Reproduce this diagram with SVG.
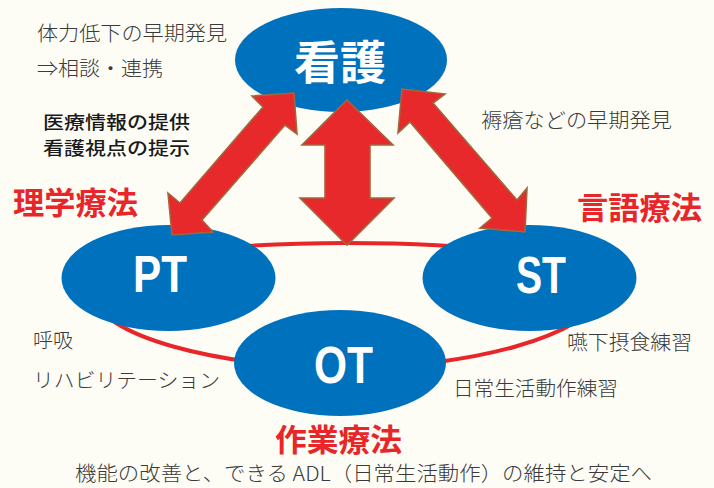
<svg xmlns="http://www.w3.org/2000/svg" width="714" height="488" viewBox="0 0 714 488">
<style>
.bg{fill:#fdfdf6}
.node{fill:#0071bc}
.ring{fill:none;stroke:#e8262a;stroke-width:4}
.arrow{fill:#e8292b;stroke:#a2663c;stroke-width:1.6;stroke-linejoin:miter}
.nl{font-family:"Liberation Sans","Noto Sans CJK JP",sans-serif;font-weight:bold;fill:#ffffff;text-anchor:middle}
.jp{font-family:"Noto Sans CJK JP","Noto Sans",sans-serif;font-size:20px}
.thin{fill:#3a3a3a;font-weight:300}
.dark{fill:#1a1a1a;font-weight:500;font-size:17.8px}
.red{font-family:"Noto Sans CJK JP",sans-serif;font-weight:bold;font-size:31px;fill:#e8262a}
</style>
<rect class="bg" x="0" y="0" width="714" height="488"/>
<g id="connectors">
<path class="ring" d="M347 243 C470 243 610 255 600 295 C590 335 470 368 345 368 C220 368 95 335 95 295 C95 255 225 243 347 243 Z"/>
</g>
<g id="node-kango">
<ellipse class="node" cx="341" cy="60" rx="106" ry="52"/>
<text class="nl" x="340" y="79" font-size="46" font-family="Noto Sans CJK JP,sans-serif">看護</text>
</g>
<g id="node-pt">
<ellipse class="node" cx="168.5" cy="278" rx="107" ry="53"/>
<text class="nl" x="160" y="292" font-size="51" textLength="54" lengthAdjust="spacingAndGlyphs">PT</text>
</g>
<g id="node-st">
<ellipse class="node" cx="529.5" cy="278" rx="107" ry="53"/>
<text class="nl" x="541" y="293" font-size="51" textLength="50" lengthAdjust="spacingAndGlyphs">ST</text>
</g>
<g id="node-ot">
<ellipse class="node" cx="340" cy="363" rx="106" ry="53"/>
<text class="nl" x="343.5" y="383" font-size="51" textLength="59" lengthAdjust="spacingAndGlyphs">OT</text>
</g>
<g id="arrows">
<polygon class="arrow" points="294,93 297,134 285,125 202,220 213,232 172,235 168,193 180,203 263,107 252,96"/>
<polygon class="arrow" points="347,100 393,145 370,145 370,198 394,198 347,245 300,198 325,198 325,145 302,145"/>
<polygon class="arrow" points="402,89 445,94 433,103 517,200 527,188 525,232 480,228 492,218 410,122 398,133"/>
</g>
<g id="labels">
<text class="jp thin" x="37" y="41" textLength="190" lengthAdjust="spacingAndGlyphs">体力低下の早期発見</text>
<text class="jp thin" x="37" y="76" textLength="126" lengthAdjust="spacingAndGlyphs">⇒相談・連携</text>
<text class="jp dark" x="43" y="129" textLength="147" lengthAdjust="spacingAndGlyphs">医療情報の提供</text>
<text class="jp dark" x="43" y="155" textLength="147" lengthAdjust="spacingAndGlyphs">看護視点の提示</text>
<text class="red" x="13" y="214" textLength="125" lengthAdjust="spacingAndGlyphs">理学療法</text>
<text class="jp thin" x="481" y="128" textLength="191" lengthAdjust="spacingAndGlyphs">褥瘡などの早期発見</text>
<text class="red" x="577" y="219" textLength="125" lengthAdjust="spacingAndGlyphs">言語療法</text>
<text class="jp thin" x="33" y="348" textLength="40" lengthAdjust="spacingAndGlyphs">呼吸</text>
<text class="jp thin" x="33" y="388" textLength="187" lengthAdjust="spacingAndGlyphs">リハビリテーション</text>
<text class="jp thin" x="567" y="350" textLength="125" lengthAdjust="spacingAndGlyphs">嚥下摂食練習</text>
<text class="jp thin" x="453" y="396" textLength="165" lengthAdjust="spacingAndGlyphs">日常生活動作練習</text>
<text class="red" x="275" y="451" textLength="127" lengthAdjust="spacingAndGlyphs">作業療法</text>
<text class="jp thin" x="75" y="481" textLength="577" lengthAdjust="spacingAndGlyphs">機能の改善と、できる ADL（日常生活動作）の維持と安定へ</text>
</g>
</svg>
